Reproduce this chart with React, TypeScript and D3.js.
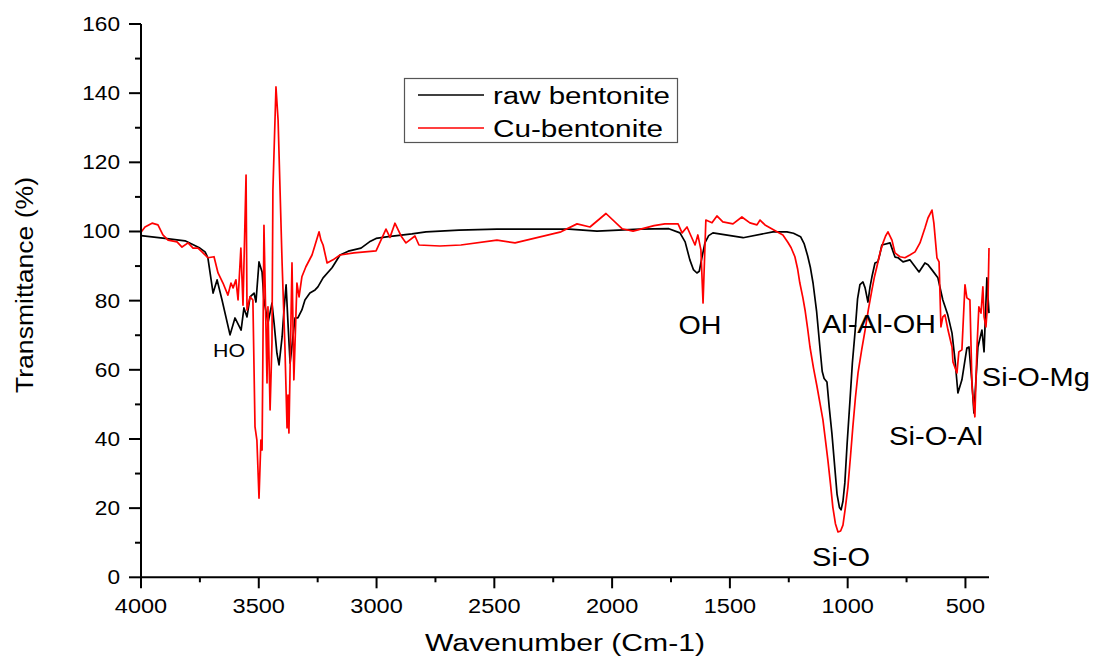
import React from "react";
import * as d3 from "d3";

// ---- data ----
const rawWavenumber = [
  4000, 3907, 3813, 3750, 3728, 3716, 3694, 3677, 3656, 3622, 3601, 3575, 3563, 3550, 3537, 3520, 3512,
  3499, 3486, 3478, 3461, 3444, 3435, 3423, 3414, 3401, 3393, 3384, 3376, 3367, 3355, 3346, 3334, 3317,
  3304, 3283, 3261, 3249, 3227, 3189, 3155, 3120, 3066, 3030, 3002, 2950, 2913, 2850, 2790, 2650, 2489,
  2183, 2064, 1882, 1759, 1712, 1690, 1670, 1655, 1640, 1630, 1620, 1606, 1590, 1572, 1444, 1317, 1258,
  1230, 1200, 1185, 1170, 1158, 1147, 1132, 1118, 1108, 1100, 1088, 1078, 1067, 1055, 1045, 1035, 1028,
  1020, 1012, 1002, 990, 980, 969, 958, 948, 935, 926, 914, 905, 897, 884, 872, 863, 855, 820, 799, 786,
  765, 736, 697, 672, 659, 642, 617, 596, 575, 557, 544, 532, 515, 494, 485, 472, 464, 447, 430, 421, 409, 400,
];
const rawTransmittance = [
  98.8, 98.1, 97.3, 95.2, 94.1, 92.4, 82.2, 86.0, 80.2, 70.1, 75.0, 71.5, 77.9, 75.3, 81.1, 82.2, 79.6,
  91.2, 88.3, 80.2, 73.5, 79.3, 73.5, 64.8, 61.4, 69.5, 77.3, 84.6, 73.5, 61.9, 69.5, 75.0, 75.0, 77.3,
  80.2, 82.2, 83.1, 84.0, 86.6, 89.5, 93.2, 94.3, 95.2, 97.0, 98.0, 98.5, 98.8, 99.3, 99.9, 100.4, 100.7,
  100.7, 100.1, 100.7, 100.8, 99.6, 97.0, 91.8, 89.0, 88.0, 88.5, 92.0, 96.7, 98.8, 99.6, 98.2, 99.9, 99.9,
  99.5, 98.5, 96.5, 93.0, 89.5, 85.1, 77.0, 66.6, 59.5, 57.5, 56.5, 49.0, 41.7, 32.0, 24.0, 20.2, 19.5,
  22.0, 27.3, 39.0, 51.3, 62.0, 70.7, 80.5, 84.6, 85.4, 83.7, 79.6, 84.0, 86.9, 90.9, 91.2, 93.5, 96.1, 96.7, 92.6, 92.4,
  91.2, 91.8, 88.3, 90.9, 90.4, 88.9, 86.6, 80.2, 75.9, 70.6, 62.7, 53.3, 57.1, 66.3, 66.6, 56.0, 47.5, 66.6, 71.5, 65.2, 86.6, 76.4,
];

const cuWavenumber = [
  4000, 3983, 3953, 3928, 3907, 3885, 3847, 3826, 3800, 3779, 3758, 3741, 3716, 3690, 3673, 3652, 3631,
  3618, 3609, 3597, 3588, 3576, 3567, 3554, 3550, 3537, 3525, 3516, 3508, 3499, 3491, 3486, 3478, 3465,
  3461, 3452, 3444, 3440, 3427, 3418, 3401, 3389, 3380, 3376, 3372, 3359, 3351, 3338, 3329, 3317, 3300,
  3274, 3261, 3244, 3236, 3227, 3210, 3185, 3155, 3096, 3002, 2960, 2943, 2922, 2896, 2875, 2837, 2820,
  2731, 2642, 2489, 2412, 2217, 2149, 2094, 2026, 1958, 1911, 1822, 1776, 1720, 1703, 1682, 1648, 1636,
  1623, 1614, 1602, 1576, 1555, 1530, 1487, 1449, 1415, 1385, 1372, 1351, 1300, 1275, 1254, 1240, 1224,
  1212, 1203, 1190, 1181, 1170, 1160, 1145, 1130, 1118, 1105, 1095, 1084, 1073, 1063, 1052, 1041, 1030,
  1020, 1010, 999, 988, 978, 967, 956, 940, 926, 912, 897, 886, 876, 862, 850, 839, 829, 812, 799, 778,
  757, 736, 714, 693, 672, 659, 642, 634, 621, 612, 604, 596, 587, 574, 557, 553, 536, 528, 515, 502, 494,
  481, 472, 460, 451, 443, 434, 426, 421, 413, 404, 400,
];
const cuTransmittance = [
  99.8, 101.3, 102.4, 101.9, 99.0, 97.5, 97.0, 95.5, 96.7, 95.2, 95.2, 94.1, 92.4, 92.7, 88.0, 85.1, 81.6,
  85.1, 83.7, 86.0, 80.2, 95.2, 78.7, 116.3, 77.3, 81.1, 80.2, 43.5, 39.7, 22.9, 39.7, 36.8, 101.8, 56.2,
  78.2, 48.4, 67.8, 112.0, 141.8, 132.2, 90.9, 66.6, 43.2, 52.7, 41.7, 90.9, 57.1, 85.1, 81.1, 86.9, 89.8,
  93.2, 96.1, 99.9, 97.5, 96.1, 90.9, 91.8, 93.2, 93.8, 94.4, 100.7, 98.3, 102.4, 98.7, 96.7, 98.7, 96.1,
  95.8, 96.1, 97.5, 96.7, 99.9, 102.2, 101.3, 105.2, 100.8, 100.1, 101.7, 102.2, 102.2, 99.6, 101.3, 96.1, 99.0,
  94.7, 79.3, 103.3, 102.5, 104.5, 102.8, 102.2, 104.2, 102.5, 101.9, 103.3, 101.9, 99.9, 99.0, 96.9, 95.3, 92.7,
  89.0, 85.1, 80.8, 77.3, 72.0, 66.6, 60.5, 55.1, 50.5, 45.5, 40.0, 33.9, 27.0, 20.3, 15.5, 13.1, 13.4,
  15.1, 20.0, 26.1, 35.0, 43.5, 52.0, 59.1, 66.0, 71.5, 77.5, 83.1, 87.0, 89.8, 94.0, 96.7, 98.7, 99.9, 97.5, 93.8, 92.7,
  92.4, 93.2, 94.1, 96.7, 101.0, 103.9, 106.2, 102.4, 92.4, 91.2, 72.4, 75.3, 75.9, 71.5, 66.6, 62.3, 59.1, 65.2, 65.8, 84.6, 80.8,
  80.2, 55.1, 46.4, 66.6, 78.2, 76.4, 84.0, 75.3, 72.4, 81.1, 95.2,
];

const seriesNames = ["raw bentonite", "Cu-bentonite"];
const seriesColors = ["#000000", "#ff0000"];

const xMajorTicks = [4000, 3500, 3000, 2500, 2000, 1500, 1000, 500];
const xMinorTicks = [3750, 3250, 2750, 2250, 1750, 1250, 750];
const yMajorTicks = [0, 20, 40, 60, 80, 100, 120, 140, 160];
const yMinorTicks = [10, 30, 50, 70, 90, 110, 130, 150];

// annotations: text, wavenumber (centre), transmittance (baseline)
const annotationTexts = ["HO", "OH", "Al-Al-OH", "Si-O", "Si-O-Al", "Si-O-Mg"];
const annotationWavenumbers = [3626, 1627, 867, 1028, 625, 201];
const annotationTransmittance = [63.7, 70.4, 70.7, 3.3, 38.3, 55.4];

const W = 1093;
const H = 657;
const FONT = "'Liberation Sans', Arial, Helvetica, sans-serif";

export default function App() {
  const x = d3.scaleLinear().domain([4000, 400]).range([141, 989]);
  const y = d3.scaleLinear().domain([0, 160]).range([577.3, 24]);

  const line = d3
    .line<[number, number]>()
    .x((d) => x(d[0]))
    .y((d) => y(d[1]));

  const rawData: [number, number][] = rawWavenumber.map((w, i) => [w, rawTransmittance[i]]);
  const cuData: [number, number][] = cuWavenumber.map((w, i) => [w, cuTransmittance[i]]);

  const annSizes = [18, 25, 25, 25, 25, 25];
  const annLen = [32, 43, 114, 58, 94, 108];

  const y0 = y(0);
  const x0 = x(4000);

  return (
    <svg
      width={W}
      height={H}
      style={{ position: "absolute", left: 0, top: 0, background: "#fff" }}
      fontFamily={FONT}
    >
      <rect x={0} y={0} width={W} height={H} fill="#fff" />
      {/* curves */}
      <path d={line(rawData) || ""} fill="none" stroke={seriesColors[0]} strokeWidth={1.7} strokeLinejoin="round" />
      <path d={line(cuData) || ""} fill="none" stroke={seriesColors[1]} strokeWidth={1.7} strokeLinejoin="round" />

      {/* y axis */}
      <line x1={x0} x2={x0} y1={y(160)} y2={y0 + 1} stroke="#000" strokeWidth={2} />
      {yMajorTicks.map((t) => (
        <g key={"ym" + t}>
          <line x1={x0 - 12} x2={x0} y1={y(t)} y2={y(t)} stroke="#000" strokeWidth={2} />
          <text
            x={120}
            y={y(t) + 7}
            textAnchor="end"
            fontSize={20}
            textLength={String(t).length * 12.6}
            lengthAdjust="spacingAndGlyphs"
          >
            {t}
          </text>
        </g>
      ))}
      {yMinorTicks.map((t) => (
        <line key={"yn" + t} x1={x0 - 6} x2={x0} y1={y(t)} y2={y(t)} stroke="#000" strokeWidth={2} />
      ))}

      {/* x axis */}
      <line x1={x0 - 1} x2={x(400)} y1={y0} y2={y0} stroke="#000" strokeWidth={2} />
      {xMajorTicks.map((t) => (
        <g key={"xm" + t}>
          <line x1={x(t)} x2={x(t)} y1={y0} y2={y0 + 11} stroke="#000" strokeWidth={2} />
          <text
            x={x(t)}
            y={613}
            textAnchor="middle"
            fontSize={20.5}
            textLength={String(t).length * 13.1}
            lengthAdjust="spacingAndGlyphs"
          >
            {t}
          </text>
        </g>
      ))}
      {xMinorTicks.map((t) => (
        <line key={"xn" + t} x1={x(t)} x2={x(t)} y1={y0} y2={y0 + 5} stroke="#000" strokeWidth={2} />
      ))}

      {/* axis titles */}
      <text x={565} y={651} textAnchor="middle" fontSize={23.5} textLength={280} lengthAdjust="spacingAndGlyphs">
        Wavenumber (Cm-1)
      </text>
      <text
        transform="translate(33,285) rotate(-90)"
        textAnchor="middle"
        fontSize={23.5}
        textLength={216}
        lengthAdjust="spacingAndGlyphs"
      >
        Transmittance (%)
      </text>

      {/* annotations */}
      {annotationTexts.map((s, i) => (
        <text
          key={s}
          x={x(annotationWavenumbers[i])}
          y={y(annotationTransmittance[i])}
          textAnchor="middle"
          fontSize={annSizes[i]}
          textLength={annLen[i]}
          lengthAdjust="spacingAndGlyphs"
        >
          {s}
        </text>
      ))}

      {/* legend */}
      <rect x={404.5} y={78.5} width={273} height={64} fill="#fff" stroke="#555" strokeWidth={1.2} />
      {seriesNames.map((n, i) => (
        <g key={n}>
          <line x1={418} x2={484} y1={95 + i * 33} y2={95 + i * 33} stroke={seriesColors[i]} strokeWidth={1.6} />
          <text
            x={493}
            y={104 + i * 33}
            fontSize={23.5}
            textLength={i === 0 ? 177 : 170}
            lengthAdjust="spacingAndGlyphs"
          >
            {n}
          </text>
        </g>
      ))}
    </svg>
  );
}
